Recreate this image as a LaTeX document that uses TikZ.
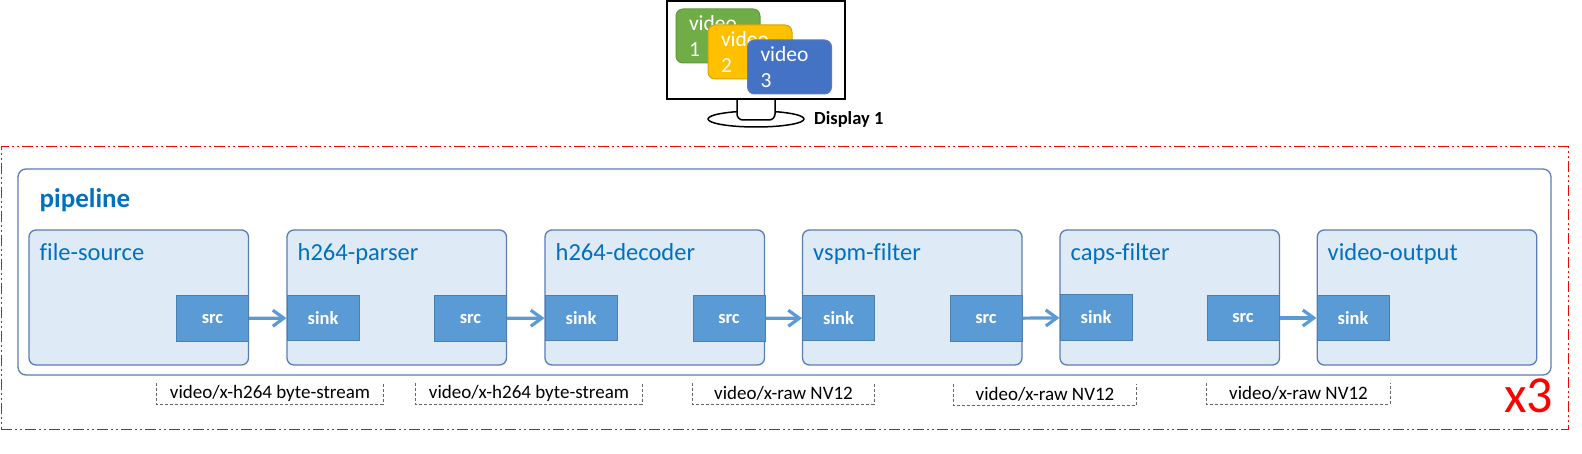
\documentclass[tikz,border=0pt]{standalone}
\usepackage{fontspec}
\setmainfont[Ligatures=NoCommon]{Carlito}
\usetikzlibrary{arrows.meta,shapes.geometric}
\definecolor{pipeblue}{HTML}{0070C0}
\definecolor{edgeblue}{HTML}{5B7DB5}
\definecolor{elfill}{HTML}{DEEAF6}
\definecolor{padfill}{HTML}{5B9BD5}
\definecolor{padedge}{HTML}{4A7FB0}
\definecolor{vidgreen}{HTML}{70AD47}
\definecolor{vidgreenedge}{HTML}{5F9A3A}
\definecolor{vidorange}{HTML}{FFC000}
\definecolor{vidorangeedge}{HTML}{D9A300}
\definecolor{vidblue}{HTML}{4472C4}
\tikzset{
    elbox/.style={draw=edgeblue, fill=elfill, line width=1.3pt, rounded corners=7pt, minimum width=219.5pt, minimum height=135pt, inner sep=0pt},
    eltext/.style={pipeblue, anchor=base west, inner sep=0pt, font=\fontsize{24.5}{28}\selectfont},
    padbox/.style={draw=padedge, fill=padfill, line width=1pt, minimum width=72pt, minimum height=45pt, inner sep=0pt, text=white, font=\bfseries\fontsize{18.5}{22}\selectfont},
    vidbox/.style={line width=1pt, rounded corners=7pt, text=white, minimum height=54pt, text width=58pt, inner xsep=13pt, inner ysep=0pt, align=left, font=\fontsize{21.5}{25.5}\selectfont},
    capnode/.style={minimum width=226pt, minimum height=21pt, inner sep=0pt, font=\fontsize{19}{22}\selectfont},
    capline/.style={draw=black!60, line width=1pt, dash pattern=on 3pt off 2pt},
    flow/.style={padfill, line width=3.2pt, -{Straight Barb[length=11pt,width=16pt]}}
}
\begin{document}
\begin{tikzpicture}[x=1pt, y=-1pt]
    \useasboundingbox (0,0) rectangle (1582,454);
    % Display
    \node[draw, line width=1.5pt, ellipse, minimum width=96pt, minimum height=16pt, inner sep=0pt] (foot) at (756,119) {};
    \node[draw, fill=white, line width=1.5pt, rounded corners=6pt, minimum width=38pt, minimum height=30pt, inner sep=0pt] (stand) at (756,105) {};
    \node[draw, fill=white, line width=2pt, minimum width=178pt, minimum height=98pt, inner sep=0pt] (screen) at (756,50) {};
    \node[anchor=west, inner sep=0pt, font=\bfseries\fontsize{18.5}{22}\selectfont] (displaytext) at (814,119) {Display 1};
    % Videos on the display
    \node[vidbox, draw=vidgreenedge, fill=vidgreen] (video1) at (718,36) {video\\1};
    \node[vidbox, draw=vidorangeedge, fill=vidorange] (video2) at (750,52) {video\\2};
    \node[vidbox, draw=edgeblue, fill=vidblue] (video3) at (789.5,67) {video\\3};
    % Outer dash-dot frame
    \node[draw=red, line width=1pt, dash pattern=on 11pt off 3pt on 2pt off 3pt on 2pt off 3pt, minimum width=1567pt, minimum height=282pt, inner sep=0pt] (frame) at (784.5,288) {};
    \node[red, inner sep=0pt, font=\fontsize{52}{60}\selectfont] (times) at (1528.5,396) {x3};
    % Pipeline
    \node[draw=edgeblue, line width=1.3pt, rounded corners=8pt, minimum width=1533pt, minimum height=206pt, inner sep=0pt] (pipeline) at (784.5,272) {};
    \node[eltext, font=\bfseries\fontsize{27}{32}\selectfont] (pipetext) at (39.5,208) {pipeline};
    % Elements
    \node[elbox] (filesource) at (138.75,297.5) {};
    \node[elbox] (parser) at (396.75,297.5) {};
    \node[elbox] (decoder) at (654.75,297.5) {};
    \node[elbox] (vspm) at (912.25,297.5) {};
    \node[elbox] (caps) at (1169.75,297.5) {};
    \node[elbox] (output) at (1427,297.5) {};
    % Element names
    \node[eltext] (filetext) at (39.5,261) {file-source};
    \node[eltext] (parsertext) at (297.5,261) {h264-parser};
    \node[eltext] (decodertext) at (555.5,261) {h264-decoder};
    \node[eltext] (vspmtext) at (813,261) {vspm-filter};
    \node[eltext] (capstext) at (1070.5,261) {caps-filter};
    \node[eltext] (outputtext) at (1327.5,261) {video-output};
    % Pads
    \node[padbox] (src1) at (212.5,318.5) {src};
    \node[padbox] (sink2) at (323,318) {sink};
    \node[padbox] (src2) at (470.5,318.5) {src};
    \node[padbox] (sink3) at (581,318) {sink};
    \node[padbox] (src3) at (729,318.5) {src};
    \node[padbox] (sink4) at (838.5,318) {sink};
    \node[padbox] (src4) at (986,318.5) {src};
    \node[padbox] (sink5) at (1096,317.5) {sink};
    \node[padbox] (src5) at (1243,318) {src};
    \node[padbox] (sink6) at (1353,318) {sink};
    % Links
    \draw[flow] (src1) -- (sink2);
    \draw[flow] (src2) -- (sink3);
    \draw[flow] (src3) -- (sink4);
    \draw[flow] (src4) -- (sink5);
    \draw[flow] (src5) -- (sink6);
    % Caps labels
    \node[capnode] (cap1) at (270,393.5) {video/x-h264 byte-stream};
    \node[capnode] (cap2) at (529,393.5) {video/x-h264 byte-stream};
    \node[capnode, minimum width=181pt] (cap3) at (783.5,393.5) {video/x-raw NV12};
    \node[capnode, minimum width=182.5pt] (cap4) at (1045,394.5) {video/x-raw NV12};
    \node[capnode, minimum width=183pt] (cap5) at (1298.5,393.5) {video/x-raw NV12};
    \draw[capline] (cap1.north west) -- (cap1.south west) -- (cap1.south east) -- (cap1.north east);
    \draw[capline] (cap2.north west) -- (cap2.south west) -- (cap2.south east) -- (cap2.north east);
    \draw[capline] (cap3.north west) -- (cap3.south west) -- (cap3.south east) -- (cap3.north east);
    \draw[capline] (cap4.north west) -- (cap4.south west) -- (cap4.south east) -- (cap4.north east);
    \draw[capline] (cap5.north west) -- (cap5.south west) -- (cap5.south east) -- (cap5.north east);
\end{tikzpicture}
\end{document}
